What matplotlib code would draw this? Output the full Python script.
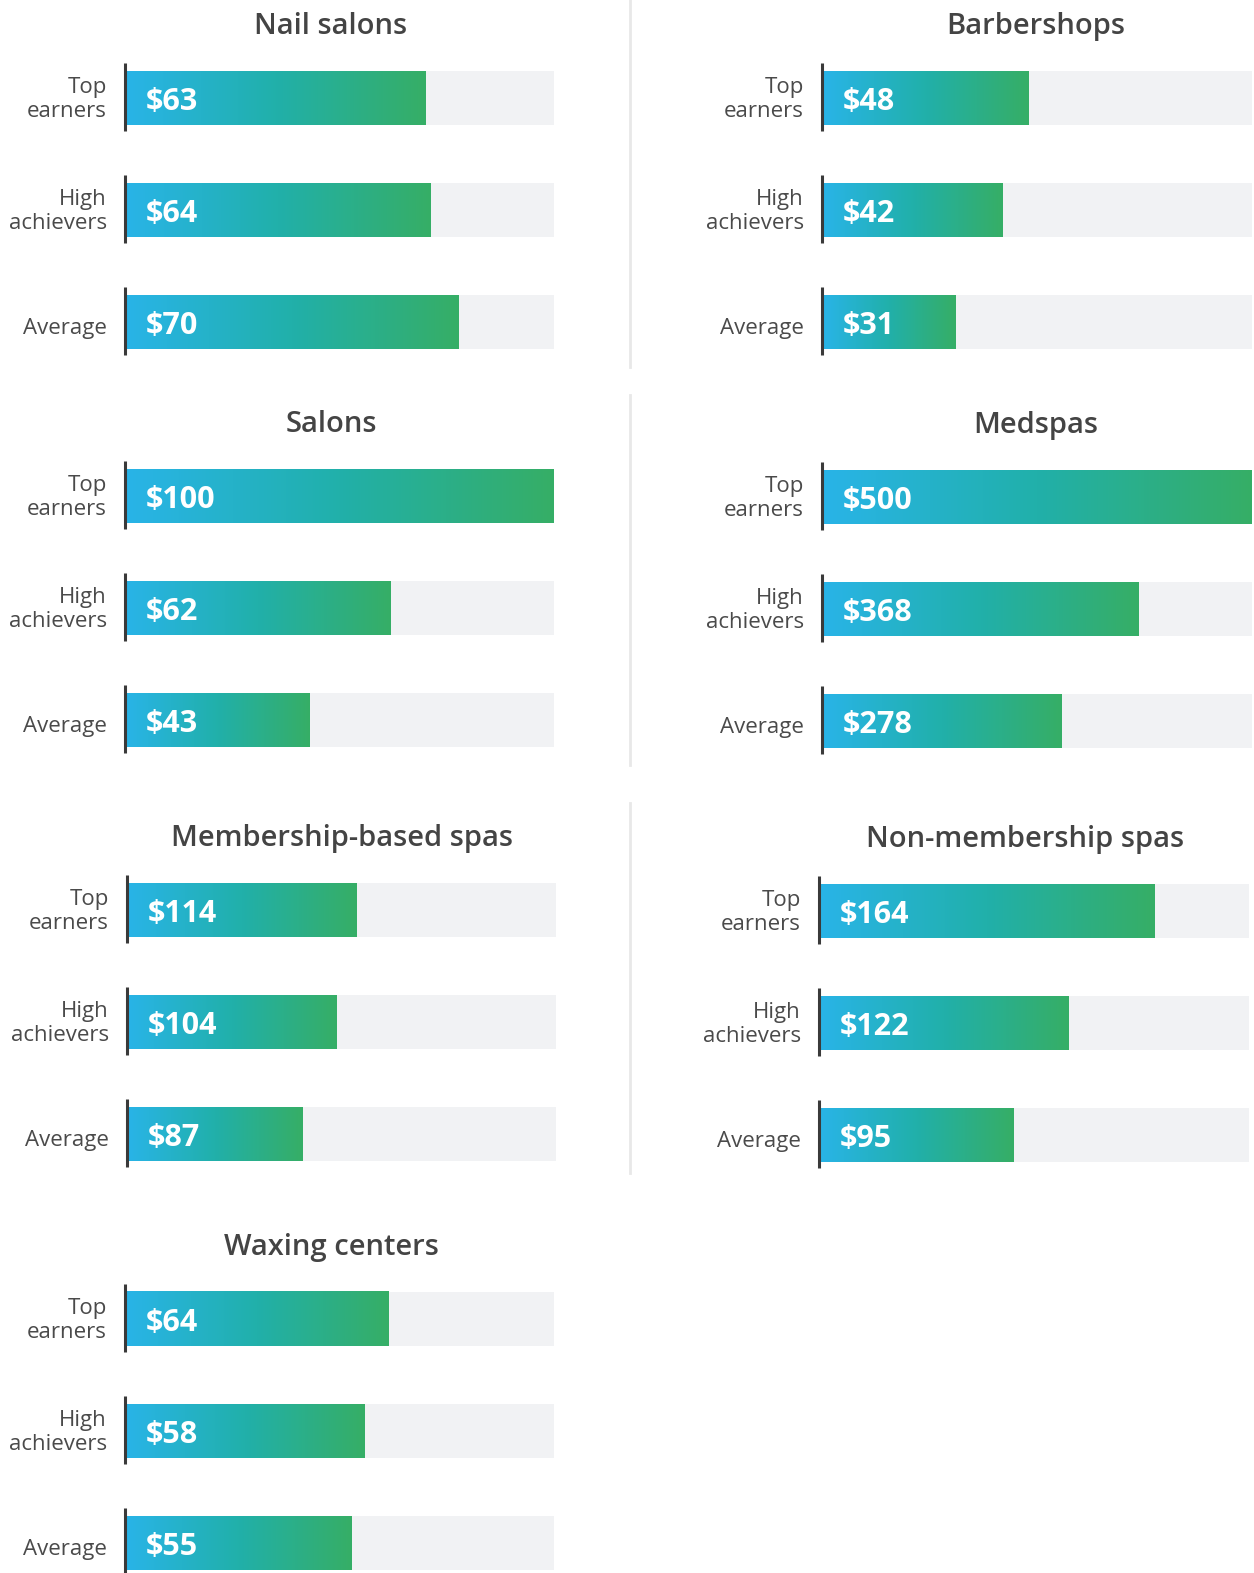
import numpy as np
import matplotlib.pyplot as plt
from matplotlib.colors import LinearSegmentedColormap
from matplotlib.lines import Line2D
from matplotlib.transforms import offset_copy

plt.rcParams['font.family'] = ['Open Sans', 'DejaVu Sans']

W, H = 1254, 1573

# data
panels = ['Nail salons', 'Barbershops', 'Salons', 'Medspas',
          'Membership-based spas', 'Non-membership spas', 'Waxing centers']
groups = ['Top\nearners', 'High\nachievers', 'Average']
nail_salons = [63, 64, 70]
barbershops = [48, 42, 31]
salons = [100, 62, 43]
medspas = [500, 368, 278]
membership_spas = [114, 104, 87]
non_membership_spas = [164, 122, 95]
waxing_centers = [64, 58, 55]
values = [nail_salons, barbershops, salons, medspas,
          membership_spas, non_membership_spas, waxing_centers]
# full width of the grey track for each panel
scale_max = [90, 100, 100, 500, 213, 210, 104]

# layout in pixels: track left, track right, first bar centre, title centre x
layout = [
    (125, 554, 98, 331),
    (822, 1252, 98, 1036),
    (125, 554, 496, 331),
    (822, 1252, 497, 1036),
    (127, 556, 910, 342),
    (819, 1249, 911, 1025),
    (125, 554, 1319, 331),
]
step = 112  # px between bar centres
bh = 54 / step

cmap = LinearSegmentedColormap.from_list(
    'bar', ['#29b4e8', '#21b0aa', '#36ae66'])
grad = np.linspace(0, 1, 256).reshape(1, -1)

fig = plt.figure(figsize=(W / 100, H / 100), dpi=100)

for name, vals, vmax, (x0, x1, yc, tx) in zip(panels, values, scale_max, layout):
    top = yc - step / 2
    ax = fig.add_axes([x0 / W, 1 - (top + 3 * step) / H, (x1 - x0) / W, 3 * step / H])
    ax.axis('off')
    for i, v in enumerate(vals):
        ax.barh(i, vmax, height=bh, color='#f1f2f4', zorder=1)
        ax.imshow(grad, extent=[0, v, i + bh / 2, i - bh / 2], cmap=cmap,
                  aspect='auto', interpolation='bicubic', zorder=2)
        ax.vlines(0, i - bh / 2 - 8 / step, i + bh / 2 + 6 / step,
                  colors='#3a3a3a', lw=2.2, zorder=3, clip_on=False)
        tr = offset_copy(ax.transData, fig, x=21, y=-12, units='dots')
        ax.text(0, i, f'${v}', transform=tr, color='white', fontsize=22,
                fontweight='bold', va='baseline', ha='left', zorder=4)
        lines = groups[i].split('\n')
        offs = [-5, 19] if len(lines) == 2 else [12]
        for ln, off in zip(lines, offs):
            tr = offset_copy(ax.transData, fig, x=-18, y=-off, units='dots')
            ax.text(0, i, ln, transform=tr, color='#4a4a4a', fontsize=16,
                    va='baseline', ha='right', clip_on=False)
    ax.set_xlim(0, vmax)
    ax.set_ylim(2.5, -0.5)
    fig.text(tx / W, 1 - (yc - 64) / H, name, ha='center', va='baseline',
             fontsize=21, fontweight='semibold', color='#444444')

# light separators between the columns
for y0, y1 in [(0, 367), (395, 765), (803, 1173)]:
    fig.add_artist(Line2D([630 / W, 630 / W], [1 - y0 / H, 1 - y1 / H],
                          color='#e8e8e8', lw=2, transform=fig.transFigure))

fig.savefig('out.png', dpi=100, facecolor='white')
